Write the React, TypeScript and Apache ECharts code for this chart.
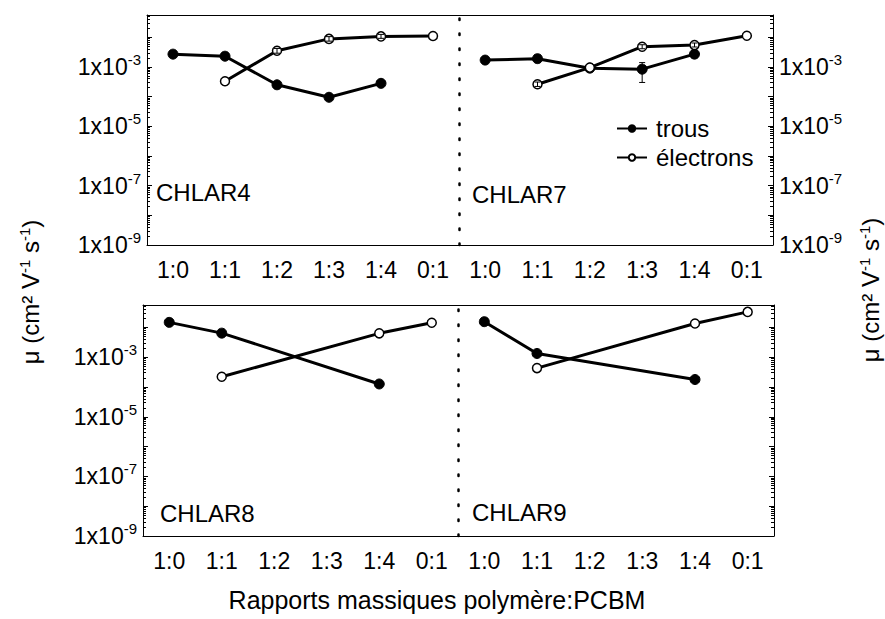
import React, { useEffect, useRef } from 'react';
import * as echarts from 'echarts';

// ---------- data ----------
const categories = ['1:0', '1:1', '1:2', '1:3', '1:4', '0:1'];
const yLabelExponents = [-9, -7, -5, -3];
const panelNames = ['CHLAR4', 'CHLAR7', 'CHLAR8', 'CHLAR9'];
const seriesNames = ['trous', 'électrons'];

const chlar4Trous = [2.7e-3, 2.3e-3, 2.5e-4, 9.5e-5, 2.8e-4, null];
const chlar4Electrons = [null, 3.3e-4, 3.5e-3, 8.8e-3, 1.07e-2, 1.1e-2];
const chlar7Trous = [1.7e-3, 1.9e-3, 9.1e-4, 8.4e-4, 2.7e-3, null];
const chlar7Electrons = [null, 2.6e-4, 9.5e-4, 4.8e-3, 5.5e-3, 1.13e-2];
const chlar8Trous = [1.47e-2, 6.4e-3, null, null, 1.26e-4, null];
const chlar8Electrons = [null, 2.2e-4, null, null, 6.3e-3, 1.42e-2];
const chlar9Trous = [1.55e-2, 1.33e-3, null, null, 1.78e-4, null];
const chlar9Electrons = [null, 4.3e-4, null, null, 1.35e-2, 3.3e-2];

// error bars: [category index, low, high]
const chlar4ElectronErr = [[2, 2.9e-3, 4.2e-3], [3, 7.4e-3, 1.05e-2], [4, 9.2e-3, 1.25e-2]];
const chlar7TrousErr = [[3, 3.0e-4, 1.4e-3]];
const chlar7ElectronErr = [[1, 2.2e-4, 3.1e-4], [3, 4.1e-3, 5.6e-3], [4, 4.7e-3, 6.4e-3]];

const Y_MIN = -9;
const Y_MAX = -1.25;

const FONT = "'Liberation Sans', Arial, sans-serif";

const lg = (v: number | null) => (v == null ? null : Math.log10(v));

const minorTicks: number[] = [];
for (let n = -9; n <= -2; n++) {
  for (let k = 2; k <= 9; k++) {
    const v = n + Math.log10(k);
    if (v <= Y_MAX) minorTicks.push(v);
  }
}

const panels = [
  { grid: { left: 147, top: 15, width: 312, height: 230 }, trous: chlar4Trous, electrons: chlar4Electrons, errs: [chlar4ElectronErr], side: 'left', labels: true, name: panelNames[0], lx: 156, ly: 192 },
  { grid: { left: 459, top: 15, width: 314, height: 230 }, trous: chlar7Trous, electrons: chlar7Electrons, errs: [chlar7TrousErr, chlar7ElectronErr], side: 'right', labels: true, name: panelNames[1], lx: 472, ly: 194 },
  { grid: { left: 143, top: 305, width: 315, height: 231 }, trous: chlar8Trous, electrons: chlar8Electrons, errs: [], side: 'left', labels: true, name: panelNames[2], lx: 160, ly: 513 },
  { grid: { left: 458, top: 305, width: 316, height: 231 }, trous: chlar9Trous, electrons: chlar9Electrons, errs: [], side: 'right', labels: false, name: panelNames[3], lx: 472, ly: 512 },
];

const supRich = {
  b: { fontSize: 23, lineHeight: 30, fontFamily: FONT, color: '#000', verticalAlign: 'middle' },
  s: { fontSize: 15, lineHeight: 15, fontFamily: FONT, color: '#000', verticalAlign: 'top' },
};

function buildOption() {
  const grid: any[] = [];
  const xAxis: any[] = [];
  const yAxis: any[] = [];
  const series: any[] = [];
  const graphic: any[] = [];

  panels.forEach((p, i) => {
    grid.push({ ...p.grid, containLabel: false });
    xAxis.push({
      type: 'category', gridIndex: i, position: 'bottom', data: categories, boundaryGap: true,
      axisLine: { lineStyle: { color: '#000', width: 1 } },
      axisTick: { alignWithLabel: true, inside: false, length: 6, lineStyle: { color: '#000' } },
      axisLabel: { fontSize: 23, fontFamily: FONT, color: '#000', margin: 13 },
      splitLine: { show: false },
    });
    xAxis.push({
      type: 'category', gridIndex: i, position: 'top', data: categories, boundaryGap: true,
      axisLine: { lineStyle: { color: '#000', width: 1 } },
      axisTick: { alignWithLabel: true, inside: true, length: 5, lineStyle: { color: '#000' } },
      axisLabel: { show: false },
      splitLine: { show: false },
    });
    const base = { type: 'value', gridIndex: i, min: Y_MIN, max: Y_MAX, interval: 1, splitLine: { show: false } };
    const solidMain = (pos: string, withLabels: boolean) => ({
      ...base, position: pos,
      axisLine: { show: true, lineStyle: { color: '#000', width: 1 } },
      axisTick: { show: true, inside: true, length: 5, lineStyle: { color: '#000' } },
      axisLabel: withLabels
        ? { show: true, customValues: yLabelExponents, margin: 6, formatter: (v: number) => `{b|1x10}{s|${v}}`, rich: supRich }
        : { show: false },
    });
    const minor = (pos: string) => ({
      ...base, position: pos,
      axisLine: { show: false },
      axisTick: { show: true, inside: true, length: 3, customValues: minorTicks, lineStyle: { color: '#000' } },
      axisLabel: { show: false },
    });
    const dotted = (pos: string) => ({
      ...base, position: pos,
      axisLine: { show: true, lineStyle: { color: '#000', width: 2.5, type: [1.5, 13.5] } },
      axisTick: { show: false },
      axisLabel: { show: false },
    });
    const hidden = (pos: string) => ({ ...base, position: pos, show: false });
    if (p.side === 'left') {
      yAxis.push(solidMain('left', p.labels));
      yAxis.push(minor('left'));
      yAxis.push(hidden('right'));
      yAxis.push(hidden('right'));
    } else {
      yAxis.push(dotted('left'));
      yAxis.push(hidden('left'));
      yAxis.push(solidMain('right', p.labels));
      yAxis.push(minor('right'));
    }
    const xi = 2 * i;
    const yi = 4 * i;
    series.push({
      type: 'line', name: seriesNames[0], xAxisIndex: xi, yAxisIndex: yi,
      data: p.trous.map(lg), connectNulls: true, symbol: 'circle', symbolSize: 10,
      itemStyle: { color: '#000', borderColor: '#000', borderWidth: 1 },
      lineStyle: { color: '#000', width: 3 }, z: 2,
    });
    series.push({
      type: 'line', name: seriesNames[1], xAxisIndex: xi, yAxisIndex: yi,
      data: p.electrons.map(lg), connectNulls: true, symbol: 'circle', symbolSize: 9,
      itemStyle: { color: '#fff', borderColor: '#000', borderWidth: 1.5 },
      lineStyle: { color: '#000', width: 3 }, z: 2,
    });
    p.errs.forEach((err) => {
      series.push({
        type: 'custom', xAxisIndex: xi, yAxisIndex: yi, z: 5,
        data: err.map((e) => [e[0], Math.log10(e[1]), Math.log10(e[2])]),
        encode: { x: 0, y: [1, 2] },
        renderItem: (params: any, api: any) => {
          const x = api.value(0);
          const a = api.coord([x, api.value(1)]);
          const b = api.coord([x, api.value(2)]);
          const st = { stroke: '#000', lineWidth: 1 };
          return {
            type: 'group',
            children: [
              { type: 'line', shape: { x1: a[0], y1: a[1], x2: b[0], y2: b[1] }, style: st },
              { type: 'line', shape: { x1: a[0] - 3, y1: a[1], x2: a[0] + 3, y2: a[1] }, style: st },
              { type: 'line', shape: { x1: b[0] - 3, y1: b[1], x2: b[0] + 3, y2: b[1] }, style: st },
            ],
          };
        },
      });
    });
    graphic.push({
      type: 'text', x: p.lx, y: p.ly,
      style: { text: p.name, fontSize: 24, fontFamily: FONT, fill: '#000', align: 'left', verticalAlign: 'middle' },
    });
  });

  const titleRich = {
    a: { fontSize: 24, fontFamily: FONT, fill: '#000', color: '#000', lineHeight: 26, verticalAlign: 'middle' },
    s: { fontSize: 15, fontFamily: FONT, fill: '#000', color: '#000', lineHeight: 15, verticalAlign: 'top' },
  };
  const titleText = '{a|μ (cm² V}{s|-1}{a| s}{s|-1}{a|)}';
  graphic.push({
    type: 'text', x: 30, y: 292, rotation: Math.PI / 2,
    style: { text: titleText, rich: titleRich, align: 'center', verticalAlign: 'middle' },
  });
  graphic.push({
    type: 'text', x: 870, y: 290, rotation: Math.PI / 2,
    style: { text: titleText, rich: titleRich, align: 'center', verticalAlign: 'middle' },
  });
  graphic.push({
    type: 'text', x: 437, y: 600,
    style: { text: 'Rapports massiques polymère:PCBM', fontSize: 25, fontFamily: FONT, fill: '#000', align: 'center', verticalAlign: 'middle' },
  });

  return {
    animation: false,
    backgroundColor: '#fff',
    grid, xAxis, yAxis, series, graphic,
    legend: {
      data: seriesNames, orient: 'vertical', left: 611, top: 109, itemWidth: 30, itemHeight: 8, itemGap: 0,
      selectedMode: false,
      textStyle: { fontSize: 24, fontFamily: FONT, color: '#000', lineHeight: 29, padding: [0, 0, 0, 4] },
    },
  };
}

export default function App() {
  const ref = useRef<HTMLDivElement>(null);
  useEffect(() => {
    if (!ref.current) return;
    const chart = echarts.init(ref.current, undefined, { renderer: 'svg' });
    chart.setOption(buildOption() as any);
    return () => chart.dispose();
  }, []);
  return <div ref={ref} style={{ position: 'absolute', left: 0, top: 0, width: 885, height: 619 }} />;
}
